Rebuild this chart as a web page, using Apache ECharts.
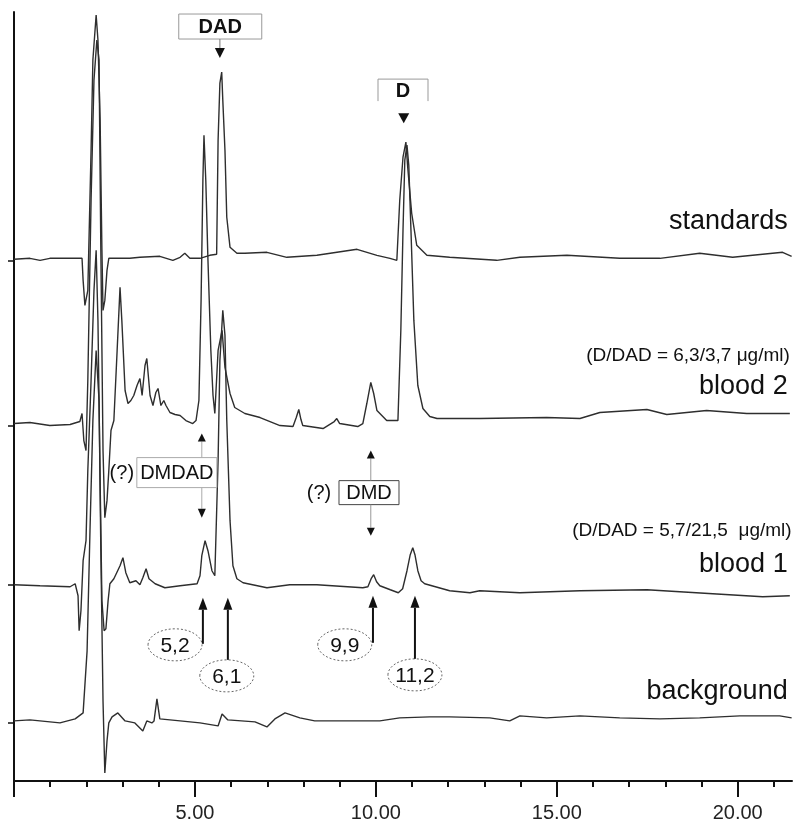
<!DOCTYPE html>
<html>
<head>
<meta charset="utf-8">
<script src="https://cdn.jsdelivr.net/npm/echarts@6/dist/echarts.min.js"></script>
<style>
  html, body { margin: 0; padding: 0; background: #fff; }
  #chart { width: 796px; height: 823px; }
</style>
</head>
<body>
<div id="chart"></div>
<script>
// [retention time (min), signal above the trace's own baseline]
var standardsTrace = [
  [0, 1], [0.44, 2], [0.72, 0], [0.99, 2], [1.55, 2], [1.88, 2], [1.91, -20], [1.96, -45], [2.04, -30],
  [2.13, 110], [2.18, 200], [2.27, 245], [2.32, 220], [2.38, 140], [2.43, 10], [2.46, -50], [2.51, -40],
  [2.57, -10], [2.62, 2], [3.20, 2], [3.48, 3], [4.03, 4], [4.39, 0], [4.59, 3], [4.72, 7], [4.86, 2],
  [5.14, 2], [5.41, 5], [5.60, 6], [5.64, 120], [5.69, 177], [5.74, 188], [5.77, 160], [5.83, 110],
  [5.88, 43], [5.97, 13], [6.16, 7], [6.38, 7], [6.99, 8], [7.54, 3], [8.37, 5], [9.48, 11], [10.03, 5],
  [10.39, 2], [10.58, 0], [10.66, 60], [10.75, 103], [10.83, 118], [10.88, 93], [10.99, 47], [11.13, 15],
  [11.41, 5], [12.04, 3], [13.34, 0], [13.98, 3], [15.28, 5], [16.74, 2], [17.85, 2], [18.95, 7],
  [19.86, 3], [21.24, 8], [21.49, 4]
];
var blood2Trace = [
  [0, 2], [0.44, 3], [0.99, 0], [1.55, 1], [1.82, 4], [1.88, 12], [1.93, -15], [1.99, -25], [2.04, 45],
  [2.13, 225], [2.21, 345], [2.29, 385], [2.35, 365], [2.40, 175], [2.46, -25], [2.51, -92], [2.57, -75],
  [2.62, -45], [2.68, -5], [2.76, 5], [2.85, 75], [2.93, 138], [2.98, 105], [3.07, 35], [3.15, 22],
  [3.23, 25], [3.31, 30], [3.40, 40], [3.48, 47], [3.54, 30], [3.62, 60], [3.67, 67], [3.76, 30],
  [3.84, 20], [3.92, 33], [3.98, 37], [4.06, 20], [4.14, 25], [4.20, 20], [4.31, 13], [4.45, 11],
  [4.59, 10], [4.75, 5], [4.94, 2], [5.03, 5], [5.11, 25], [5.17, 125], [5.22, 245], [5.25, 290],
  [5.30, 245], [5.36, 165], [5.44, 75], [5.50, 30], [5.55, 12], [5.64, 75], [5.75, 95], [5.83, 58],
  [5.97, 32], [6.10, 18], [6.38, 12], [6.80, 8], [7.35, 0], [7.71, -1], [7.80, 8], [7.87, 16], [7.93, 6],
  [7.98, 0], [8.54, -3], [8.85, 4], [8.92, 7], [9.00, 2], [9.50, -1], [9.64, 2], [9.75, 22], [9.86, 43],
  [9.94, 32], [10.03, 15], [10.30, 5], [10.61, 5], [10.69, 95], [10.75, 195], [10.80, 265], [10.86, 280],
  [10.91, 260], [10.97, 195], [11.05, 105], [11.16, 40], [11.30, 17], [11.49, 9], [11.69, 7], [12.87, 7],
  [14.72, 8], [15.64, 7], [16.19, 13], [17.49, 16], [18.04, 11], [19.14, 15], [20.25, 12], [21.44, 12]
];
var blood1Trace = [
  [0, 0], [0.72, -1], [1.55, -2], [1.69, 1], [1.77, -11], [1.80, -46], [1.85, -26], [1.91, 24],
  [1.99, 44], [2.04, 114], [2.13, 204], [2.21, 294], [2.27, 334], [2.32, 264], [2.38, 104], [2.43, -16],
  [2.49, -46], [2.54, -44], [2.60, -16], [2.65, 1], [2.76, 6], [2.93, 19], [3.01, 27], [3.09, 12],
  [3.20, 2], [3.37, 4], [3.48, 0], [3.56, 7], [3.65, 16], [3.73, 6], [3.90, 1], [4.17, -3], [4.59, -1],
  [5.06, 1], [5.14, 9], [5.19, 29], [5.28, 44], [5.36, 34], [5.47, 14], [5.55, 9], [5.64, 124],
  [5.69, 224], [5.77, 274], [5.83, 249], [5.88, 164], [5.97, 64], [6.05, 19], [6.16, 6], [6.33, 2],
  [6.99, -3], [7.62, 0], [8.37, 0], [9.64, -3], [9.78, -2], [9.87, 6], [9.94, 10], [10.02, 3],
  [10.11, -1], [10.40, -5], [10.62, -8], [10.74, -4], [10.86, 14], [10.95, 30], [11.02, 37], [11.08, 30],
  [11.16, 14], [11.25, 4], [11.35, 1], [12.04, -6], [12.60, -8], [12.87, -6], [13.98, -8], [15.64, -6],
  [17.49, -5], [19.31, -9], [20.69, -12], [21.44, -11]
];
var backgroundTrace = [
  [0, 2], [0.44, 3], [1.27, 0], [1.69, 4], [1.91, 10], [2.02, 72], [2.10, 192], [2.18, 302], [2.27, 372],
  [2.35, 322], [2.40, 172], [2.46, 22], [2.51, -50], [2.57, -18], [2.62, 0], [2.71, 6], [2.87, 10],
  [3.07, 2], [3.34, 0], [3.56, -8], [3.67, 2], [3.81, 0], [3.87, 2], [3.95, 24], [4.03, 4], [4.59, 2],
  [5.14, 0], [5.64, -3], [5.75, 9], [5.91, 3], [6.66, 1], [6.99, -4], [7.21, 4], [7.49, 10], [7.90, 5],
  [8.31, 2], [9.01, 2], [10.11, 2], [10.66, 5], [11.49, 6], [12.04, 6], [13.15, 5], [13.70, 2],
  [13.98, 7], [14.72, 5], [15.64, 7], [16.74, 5], [17.85, 4], [18.95, 5], [20.06, 7], [21.16, 7], [21.49, 5]
];

var traceNames = ['standards', 'blood 2', 'blood 1', 'background'];
var traceOffsets = [520, 355, 196, 58];   // baseline of each trace, also the y ticks
var concLabels = ['(D/DAD = 6,3/3,7 \u03bcg/ml)', '(D/DAD = 5,7/21,5  \u03bcg/ml)'];
var peakLabels = ['5,2', '6,1', '9,9', '11,2'];
var xMajorTicks = [0, 5, 10, 15, 20];
var xMinorTicks = [0, 1, 2, 3, 4, 5, 6, 7, 8, 9, 10, 11, 12, 13, 14, 15, 16, 17, 18, 19, 20, 21];
var xTickLabels = [5, 10, 15, 20];

var FONT = '"Liberation Sans", Arial, sans-serif';
var traces = [standardsTrace, blood2Trace, blood1Trace, backgroundTrace];

var chart = echarts.init(document.getElementById('chart'));

var series = traces.map(function (tr, i) {
  return {
    name: traceNames[i],
    type: 'line',
    showSymbol: false,
    animation: false,
    lineStyle: { color: '#2e2e2e', width: 1.4 },
    data: tr.map(function (p) { return [p[0], p[1] + traceOffsets[i]]; })
  };
});

chart.setOption({
  animation: false,
  grid: { left: 14, right: 4, top: 12, bottom: 42 },
  xAxis: [
    {
      type: 'value', min: 0, max: 21.5,
      axisLine: { lineStyle: { color: '#111', width: 2 } },
      axisTick: { customValues: xMajorTicks, length: 16, lineStyle: { color: '#111', width: 2 } },
      axisLabel: {
        customValues: xTickLabels, margin: 22, fontSize: 20, fontFamily: FONT, color: '#222',
        formatter: function (v) { return v.toFixed(2); }
      },
      splitLine: { show: false }
    },
    {
      type: 'value', min: 0, max: 21.5, position: 'bottom',
      axisLine: { show: false },
      axisTick: { customValues: xMinorTicks, length: 6, lineStyle: { color: '#111', width: 2 } },
      axisLabel: { show: false },
      splitLine: { show: false }
    }
  ],
  yAxis: {
    type: 'value', min: 0, max: 768,
    axisLine: { show: true, lineStyle: { color: '#111', width: 2 } },
    axisTick: { show: true, customValues: traceOffsets, length: 6, lineStyle: { color: '#111', width: 1.5 } },
    axisLabel: { show: false },
    splitLine: { show: false }
  },
  series: series
});

// annotations, placed in data coordinates
var traceLabelAt = [[21.38, 559], [21.38, 394], [21.38, 216], [21.38, 89]];
var concLabelAt = [[21.44, 425], [21.49, 250]];
var boxNotes = [
  { text: 'DAD', at: [5.70, 753.5], w: 83, h: 25, bold: true, border: '#999' },
  { text: 'D', at: [10.75, 690], w: 50, h: 22, bold: true, border: '#999', open: true },
  { text: 'DMDAD', at: [4.50, 308], w: 80, h: 30, border: '#aaa' },
  { text: 'DMD', at: [9.81, 288], w: 60, h: 24, border: '#444' }
];
var questionAt = [[2.98, 307], [8.43, 287]];
var arrowNotes = [
  { from: [5.69, 741], to: [5.69, 722], lw: 1, color: '#777', head: [10, 10] },
  { from: [10.77, 667], to: [10.77, 657], lw: 0, color: '#777', head: [11, 10] },
  { from: [5.19, 323], to: [5.19, 347], lw: 1, color: '#aaa', head: [8, 8] },
  { from: [5.19, 293], to: [5.19, 263], lw: 1, color: '#aaa', head: [8, 9] },
  { from: [9.86, 300], to: [9.86, 330], lw: 1, color: '#999', head: [8, 8] },
  { from: [9.86, 276], to: [9.86, 245], lw: 1, color: '#999', head: [8, 8] },
  { from: [5.22, 137], to: [5.22, 183], lw: 2, color: '#111', head: [9, 12] },
  { from: [5.91, 121], to: [5.91, 183], lw: 2, color: '#111', head: [9, 12] },
  { from: [9.92, 138], to: [9.92, 185], lw: 2, color: '#111', head: [9, 12] },
  { from: [11.08, 122], to: [11.08, 185], lw: 2, color: '#111', head: [9, 12] }
];
var ellipseAt = [[4.45, 136], [5.88, 105], [9.14, 136], [11.08, 106]];

function P(pt) { return chart.convertToPixel({ seriesIndex: 0 }, pt); }

function buildNotes() {
  var els = [];
  function addText(str, p, font, align, fill) {
    els.push({ type: 'text', x: p[0], y: p[1], z: 20,
      style: { text: str, font: font, fill: fill || '#111', align: align, verticalAlign: 'middle' } });
  }
  traceNames.forEach(function (n, i) { addText(n, P(traceLabelAt[i]), '27px ' + FONT, 'right'); });
  concLabels.forEach(function (c, i) { addText(c, P(concLabelAt[i]), '19px ' + FONT, 'right'); });

  boxNotes.forEach(function (b) {
    var c = P(b.at), x0 = c[0] - b.w / 2, y0 = c[1] - b.h / 2;
    if (b.open) {
      els.push({ type: 'polyline', z: 15, shape: { points: [[x0, y0 + b.h], [x0, y0], [x0 + b.w, y0], [x0 + b.w, y0 + b.h]] },
        style: { stroke: b.border, lineWidth: 1, fill: null } });
    } else {
      els.push({ type: 'rect', z: 15, shape: { x: x0, y: y0, width: b.w, height: b.h },
        style: { fill: '#fff', stroke: b.border, lineWidth: 1 } });
    }
    addText(b.text, [c[0], c[1] + 1], (b.bold ? 'bold ' : '') + '20px ' + FONT, 'center');
  });
  questionAt.forEach(function (q) { addText('(?)', P(q), '20px ' + FONT, 'center'); });

  arrowNotes.forEach(function (a) {
    var s = P(a.from), e = P(a.to);
    var dir = e[1] < s[1] ? -1 : 1;
    var baseY = e[1] - dir * a.head[1];
    if (a.lw > 0) {
      els.push({ type: 'line', z: 16, shape: { x1: s[0], y1: s[1], x2: e[0], y2: baseY },
        style: { stroke: a.color, lineWidth: a.lw } });
    }
    els.push({ type: 'polygon', z: 16,
      shape: { points: [[e[0], e[1]], [e[0] - a.head[0] / 2, baseY], [e[0] + a.head[0] / 2, baseY]] },
      style: { fill: '#111' } });
  });

  peakLabels.forEach(function (t, i) {
    var c = P(ellipseAt[i]);
    els.push({ type: 'ellipse', z: 15, shape: { cx: c[0], cy: c[1], rx: 27, ry: 16 },
      style: { fill: '#fff', stroke: '#666', lineWidth: 1, lineDash: [2, 2] } });
    addText(t, [c[0], c[1] + 1], '21px ' + FONT, 'center');
  });
  return els;
}

chart.setOption({ graphic: { elements: buildNotes() } });
</script>
</body>
</html>
